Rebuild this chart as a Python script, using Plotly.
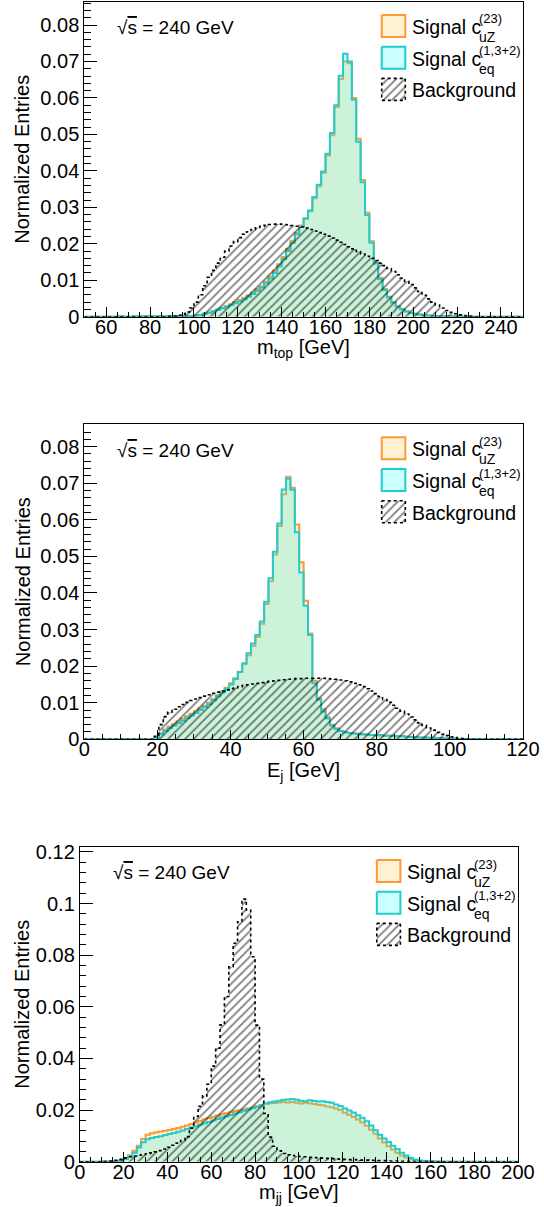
import numpy as np
import plotly.graph_objects as go

W, H = 544, 1207

# ---------------- data (normalized entries per bin, 100 bins each) ----------------
# Panel 1: m_top, 50-250 GeV
top_cuz = [
    0, 0, 0, 0, 0, 0, 0, 0, 0.0001, 0,
    0, 0.0001, 0, 0.0001, 0.0001, 0.0001, 0.0001, 0.0001, 0.0001, 0.0001,
    0.0001, 0.0001, 0.0001, 0.0002, 0.0002, 0.0003, 0.0005, 0.0008, 0.0011, 0.0015,
    0.0020, 0.0024, 0.0029, 0.0034, 0.0040, 0.0046, 0.0052, 0.0059, 0.0066, 0.0075,
    0.0083, 0.0096, 0.0110, 0.0126, 0.0144, 0.0164, 0.0186, 0.0208, 0.0230, 0.0250,
    0.0268, 0.0289, 0.0325, 0.0358, 0.0395, 0.0442, 0.0498, 0.0575, 0.0652, 0.0700,
    0.0695, 0.0600, 0.0488, 0.0375, 0.0285, 0.0207, 0.0149, 0.0107, 0.0076, 0.0055,
    0.0040, 0.0029, 0.0021, 0.0015, 0.0011, 0.0008, 0.0006, 0.0004, 0.0003, 0.0002,
    0.0002, 0.0001, 0.0001, 0.0001, 0.0001, 0.0001, 0, 0.0001, 0, 0,
    0, 0, 0, 0, 0, 0, 0, 0, 0, 0,
]
top_ceq = [
    0, 0, 0, 0, 0, 0, 0, 0, 0.0001, 0,
    0, 0.0001, 0, 0.0001, 0.0001, 0.0001, 0.0001, 0.0001, 0.0001, 0.0001,
    0.0001, 0.0001, 0.0001, 0.0002, 0.0002, 0.0003, 0.0005, 0.0008, 0.0011, 0.0015,
    0.0019, 0.0023, 0.0027, 0.0032, 0.0037, 0.0042, 0.0048, 0.0055, 0.0062, 0.0071,
    0.0080, 0.0092, 0.0105, 0.0120, 0.0138, 0.0158, 0.0180, 0.0203, 0.0226, 0.0247,
    0.0270, 0.0291, 0.0328, 0.0362, 0.0398, 0.0447, 0.0504, 0.0580, 0.0661, 0.0721,
    0.0700, 0.0595, 0.0480, 0.0369, 0.0279, 0.0203, 0.0146, 0.0103, 0.0073, 0.0053,
    0.0038, 0.0027, 0.0020, 0.0014, 0.0010, 0.0008, 0.0006, 0.0004, 0.0003, 0.0002,
    0.0002, 0.0001, 0.0001, 0.0001, 0.0001, 0.0001, 0, 0.0001, 0, 0,
    0, 0, 0, 0, 0, 0, 0, 0, 0, 0,
]
top_bkg = [
    0, 0, 0, 0, 0, 0, 0, 0, 0, 0,
    0, 0, 0, 0, 0, 0, 0, 0, 0, 0.0001,
    0.0002, 0.0004, 0.0007, 0.0013, 0.0024, 0.0040, 0.0060, 0.0085, 0.0108, 0.0127,
    0.0147, 0.0163, 0.0180, 0.0194, 0.0206, 0.0217, 0.0226, 0.0233, 0.0239, 0.0244,
    0.0248, 0.0251, 0.0253, 0.0254, 0.0254, 0.0253, 0.0252, 0.0250, 0.0248, 0.0246,
    0.0243, 0.0239, 0.0235, 0.0231, 0.0226, 0.0221, 0.0216, 0.0210, 0.0204, 0.0198,
    0.0192, 0.0186, 0.0179, 0.0172, 0.0166, 0.0160, 0.0154, 0.0147, 0.0140, 0.0132,
    0.0124, 0.0115, 0.0106, 0.0097, 0.0088, 0.0079, 0.0069, 0.0059, 0.0049, 0.0040,
    0.0032, 0.0024, 0.0017, 0.0012, 0.0008, 0.0005, 0.0003, 0.0002, 0.0001, 0,
    0, 0, 0, 0, 0, 0, 0, 0, 0, 0,
]

# Panel 2: E_j, 0-120 GeV
mid_cuz = [
    0, 0, 0, 0, 0, 0, 0, 0, 0, 0,
    0, 0, 0, 0, 0, 0, 0.0006, 0.0017, 0.0027, 0.0035,
    0.0042, 0.0049, 0.0056, 0.0063, 0.0070, 0.0077, 0.0084, 0.0092, 0.0100, 0.0110,
    0.0121, 0.0131, 0.0141, 0.0153, 0.0167, 0.0185, 0.0205, 0.0230, 0.0255, 0.0280,
    0.0316, 0.0370, 0.0432, 0.0505, 0.0583, 0.0670, 0.0718, 0.0688, 0.0587, 0.0484,
    0.0379, 0.0289, 0.0160, 0.0112, 0.0082, 0.0060, 0.0040, 0.0030, 0.0023, 0.0020,
    0.0017, 0.0016, 0.0015, 0.0014, 0.0013, 0.0012, 0.0012, 0.0011, 0.0010, 0.0010,
    0.0009, 0.0008, 0.0008, 0.0007, 0.0006, 0.0006, 0.0005, 0.0005, 0.0004, 0.0004,
    0.0003, 0.0003, 0.0002, 0.0002, 0.0002, 0.0001, 0.0001, 0.0001, 0.0001, 0.0001,
    0, 0, 0, 0, 0, 0, 0, 0, 0, 0,
]
mid_ceq = [
    0, 0, 0, 0, 0, 0, 0, 0, 0, 0,
    0, 0, 0, 0, 0, 0, 0.0005, 0.0014, 0.0023, 0.0031,
    0.0037, 0.0044, 0.0051, 0.0058, 0.0065, 0.0072, 0.0080, 0.0088, 0.0096, 0.0107,
    0.0118, 0.0128, 0.0138, 0.0150, 0.0165, 0.0184, 0.0208, 0.0235, 0.0262, 0.0285,
    0.0322, 0.0376, 0.0440, 0.0513, 0.0590, 0.0683, 0.0712, 0.0682, 0.0566, 0.0456,
    0.0365, 0.0285, 0.0153, 0.0108, 0.0076, 0.0057, 0.0038, 0.0028, 0.0022, 0.0019,
    0.0017, 0.0016, 0.0015, 0.0014, 0.0013, 0.0012, 0.0012, 0.0011, 0.0010, 0.0010,
    0.0009, 0.0008, 0.0008, 0.0007, 0.0006, 0.0006, 0.0005, 0.0005, 0.0004, 0.0004,
    0.0003, 0.0003, 0.0002, 0.0002, 0.0002, 0.0001, 0.0001, 0.0001, 0.0001, 0.0001,
    0, 0, 0, 0, 0, 0, 0, 0, 0, 0,
]
mid_bkg = [
    0, 0, 0, 0, 0, 0, 0, 0, 0, 0,
    0, 0, 0, 0, 0, 0, 0.0008, 0.0040, 0.0062, 0.0074,
    0.0082, 0.0089, 0.0095, 0.0101, 0.0106, 0.0110, 0.0114, 0.0118, 0.0122, 0.0126,
    0.0129, 0.0132, 0.0135, 0.0138, 0.0141, 0.0144, 0.0147, 0.0149, 0.0151, 0.0153,
    0.0155, 0.0157, 0.0159, 0.0160, 0.0161, 0.0163, 0.0164, 0.0165, 0.0166, 0.0166,
    0.0167, 0.0167, 0.0167, 0.0167, 0.0167, 0.0166, 0.0165, 0.0164, 0.0162, 0.0160,
    0.0157, 0.0153, 0.0149, 0.0144, 0.0138, 0.0132, 0.0125, 0.0117, 0.0109, 0.0101,
    0.0093, 0.0085, 0.0077, 0.0069, 0.0061, 0.0053, 0.0045, 0.0038, 0.0031, 0.0025,
    0.0019, 0.0014, 0.0010, 0.0007, 0.0005, 0.0003, 0.0002, 0.0001, 0, 0,
    0, 0, 0, 0, 0, 0, 0, 0, 0, 0,
]

# Panel 3: m_jj, 0-200 GeV
bot_cuz = [
    0, 0, 0, 0, 0, 0.0001, 0.0001, 0.0001, 0.0002, 0.0005,
    0.0012, 0.0025, 0.0042, 0.0062, 0.0088, 0.0104, 0.0110, 0.0114, 0.0117, 0.0120,
    0.0123, 0.0127, 0.0131, 0.0135, 0.0140, 0.0146, 0.0152, 0.0158, 0.0164, 0.0169,
    0.0174, 0.0179, 0.0184, 0.0188, 0.0192, 0.0196, 0.0199, 0.0202, 0.0206, 0.0210,
    0.0215, 0.0219, 0.0224, 0.0226, 0.0227, 0.0229, 0.0231, 0.0229, 0.0231, 0.0228,
    0.0225, 0.0228, 0.0226, 0.0223, 0.0221, 0.0219, 0.0214, 0.0211, 0.0206, 0.0200,
    0.0190, 0.0182, 0.0173, 0.0163, 0.0152, 0.0139, 0.0124, 0.0108, 0.0090, 0.0074,
    0.0060, 0.0047, 0.0035, 0.0024, 0.0016, 0.0010, 0.0006, 0.0004, 0.0002, 0.0001,
    0.0001, 0.0001, 0, 0, 0, 0, 0, 0, 0, 0,
    0, 0, 0, 0, 0, 0, 0, 0, 0, 0,
]
bot_ceq = [
    0, 0, 0, 0, 0, 0.0001, 0.0001, 0.0001, 0.0002, 0.0005,
    0.0010, 0.0020, 0.0035, 0.0055, 0.0075, 0.0087, 0.0092, 0.0096, 0.0099, 0.0103,
    0.0107, 0.0111, 0.0116, 0.0121, 0.0127, 0.0132, 0.0137, 0.0143, 0.0149, 0.0154,
    0.0160, 0.0165, 0.0171, 0.0176, 0.0181, 0.0187, 0.0192, 0.0197, 0.0202, 0.0207,
    0.0212, 0.0218, 0.0225, 0.0230, 0.0233, 0.0236, 0.0240, 0.0241, 0.0243, 0.0240,
    0.0236, 0.0234, 0.0238, 0.0235, 0.0233, 0.0234, 0.0231, 0.0228, 0.0222, 0.0216,
    0.0206, 0.0198, 0.0191, 0.0180, 0.0170, 0.0157, 0.0140, 0.0122, 0.0104, 0.0090,
    0.0076, 0.0062, 0.0049, 0.0035, 0.0024, 0.0015, 0.0009, 0.0005, 0.0003, 0.0002,
    0.0001, 0.0001, 0.0001, 0, 0, 0, 0, 0, 0, 0,
    0, 0, 0, 0, 0, 0, 0, 0, 0, 0,
]
bot_bkg = [
    0, 0, 0, 0, 0, 0.0001, 0.0002, 0.0003, 0.0005, 0.0009,
    0.0015, 0.0019, 0.0022, 0.0025, 0.0028, 0.0031, 0.0034, 0.0038, 0.0043, 0.0049,
    0.0056, 0.0064, 0.0072, 0.0082, 0.0097, 0.0130, 0.0175, 0.0215, 0.0255, 0.0300,
    0.0370, 0.0440, 0.0530, 0.0640, 0.0755, 0.0846, 0.0929, 0.1017, 0.0975, 0.0794,
    0.0529, 0.0320, 0.0187, 0.0095, 0.0060, 0.0042, 0.0032, 0.0027, 0.0024, 0.0022,
    0.0020, 0.0019, 0.0017, 0.0016, 0.0015, 0.0014, 0.0013, 0.0012, 0.0011, 0.0010,
    0.0009, 0.0008, 0.0008, 0.0007, 0.0006, 0.0006, 0.0005, 0.0005, 0.0004, 0.0004,
    0.0003, 0.0003, 0.0003, 0.0002, 0.0002, 0.0002, 0.0001, 0.0001, 0.0001, 0.0001,
    0.0001, 0, 0, 0, 0, 0, 0, 0, 0, 0,
    0, 0, 0, 0, 0, 0, 0, 0, 0, 0,
]

x_titles = ["m<sub>top</sub> [GeV]", "E<sub>j</sub> [GeV]", "m<sub>jj</sub> [GeV]"]
y_title = "Normalized Entries"
energy_text = "√<span style='text-decoration:overline'>s</span> = 240 GeV"
legend_names = ["Signal c", "Signal c", "Background"]
legend_sup = ["(23)", "(1,3+2)"]
legend_sub = ["uZ", "eq"]

# ---------------- style ----------------
FONT = "Liberation Sans, Arial, Helvetica, sans-serif"
ORANGE_LINE = "#ff9933"
ORANGE_FILL = "rgba(255,206,90,0.28)"
CYAN_LINE = "#22cccc"
CYAN_FILL = "rgba(0,255,255,0.20)"
HATCH = dict(shape="/", fgcolor="black", bgcolor="rgba(0,0,0,0)", size=6, solidity=0.3)

panels = [
    dict(frame=(84.3, 1.7, 522.9, 316.7), xr=(50, 250), yr=(0, 0.0864), xd=20, x0=60,
         xm=5, yd=0.01, ym=0.002, data=(top_cuz, top_ceq, top_bkg)),
    dict(frame=(84.3, 424.0, 522.9, 739.3), xr=(0, 120), yr=(0, 0.0862), xd=20, x0=0,
         xm=5, yd=0.01, ym=0.002, data=(mid_cuz, mid_ceq, mid_bkg)),
    dict(frame=(79.8, 846.7, 518.0, 1161.7), xr=(0, 200), yr=(0, 0.1220), xd=20, x0=0,
         xm=5, yd=0.02, ym=0.004, data=(bot_cuz, bot_ceq, bot_bkg)),
]


def px(x):
    return x / W


def py(y):
    return 1 - y / H


def step(v):
    return list(v) + [v[-1]]


fig = go.Figure()
annotations = []
layout_axes = {}

for k, p in enumerate(panels, start=1):
    L, T, R, B = p["frame"]
    xa = "x" if k == 1 else f"x{k}"
    ya = "y" if k == 1 else f"y{k}"
    cuz, ceq, bkg = p["data"]
    n = len(cuz)
    edges = np.linspace(p["xr"][0], p["xr"][1], n + 1)

    fig.add_trace(go.Scatter(x=edges, y=step(cuz), mode="lines",
                             line=dict(color=ORANGE_LINE, width=2, shape="hv"),
                             fill="tozeroy", fillcolor=ORANGE_FILL,
                             xaxis=xa, yaxis=ya, showlegend=False, hoverinfo="skip"))
    fig.add_trace(go.Scatter(x=edges, y=step(ceq), mode="lines",
                             line=dict(color=CYAN_LINE, width=2, shape="hv"),
                             fill="tozeroy", fillcolor=CYAN_FILL,
                             xaxis=xa, yaxis=ya, showlegend=False, hoverinfo="skip"))
    fig.add_trace(go.Scatter(x=edges, y=step(bkg), mode="lines",
                             line=dict(color="black", width=1.6, shape="hv", dash="dot"),
                             fill="tozeroy", fillcolor="rgba(0,0,0,0)",
                             fillpattern=HATCH,
                             xaxis=xa, yaxis=ya, showlegend=False, hoverinfo="skip"))

    axis_font = dict(family=FONT, size=20, color="black")
    layout_axes["xaxis" if k == 1 else f"xaxis{k}"] = dict(
        domain=[px(L), px(R)], range=list(p["xr"]), anchor=ya, automargin=False,
        showline=True, linecolor="black", linewidth=1, mirror=True,
        showgrid=False, zeroline=False,
        ticks="inside", ticklen=9.5, tickwidth=1, tickcolor="black",
        tick0=p["x0"], dtick=p["xd"], tickfont=axis_font, ticklabelstandoff=-8,
        ticklabeloverflow="allow",
        minor=dict(ticks="inside", ticklen=5, tickwidth=1, tickcolor="black",
                   tick0=p["xr"][0], dtick=p["xm"], showgrid=False),
    )
    layout_axes["yaxis" if k == 1 else f"yaxis{k}"] = dict(
        domain=[py(B), py(T)], range=list(p["yr"]), anchor=xa, automargin=False,
        showline=True, linecolor="black", linewidth=1, mirror=True,
        showgrid=False, zeroline=False,
        ticks="inside", ticklen=13, tickwidth=1, tickcolor="black",
        tick0=0, dtick=p["yd"], tickfont=axis_font, ticklabeloverflow="allow",
        minor=dict(ticks="inside", ticklen=6.5, tickwidth=1, tickcolor="black",
                   tick0=0, dtick=p["ym"], showgrid=False),
    )

    # axis titles
    annotations.append(dict(text=x_titles[k - 1], x=px((L + R) / 2), y=py(B + 32),
                            xref="paper", yref="paper", showarrow=False,
                            xanchor="center", yanchor="middle",
                            font=dict(family=FONT, size=20, color="black")))
    annotations.append(dict(text=y_title, x=px(22.5), y=py((T + B) / 2),
                            xref="paper", yref="paper", showarrow=False, textangle=-90,
                            xanchor="center", yanchor="middle",
                            font=dict(family=FONT, size=20, color="black")))
    # sqrt(s) label
    annotations.append(dict(text=energy_text, x=px(L + 31), y=py(T + 26),
                            xref="paper", yref="paper", showarrow=False,
                            xanchor="left", yanchor="middle",
                            font=dict(family=FONT, size=19, color="black")))

    # legend
    lx0 = R - 141.2
    for r in range(3):
        by0 = T + 13.3 + r * 31.7
        bx = [lx0, lx0 + 23.6, lx0 + 23.6, lx0, lx0]
        byy = [by0, by0, by0 + 22, by0 + 22, by0]
        if r == 0:
            fig.add_trace(go.Scatter(x=bx, y=byy, mode="lines", fill="toself",
                                     fillcolor=ORANGE_FILL,
                                     line=dict(color=ORANGE_LINE, width=2),
                                     xaxis="x4", yaxis="y4", showlegend=False, hoverinfo="skip"))
        elif r == 1:
            fig.add_trace(go.Scatter(x=bx, y=byy, mode="lines", fill="toself",
                                     fillcolor=CYAN_FILL,
                                     line=dict(color=CYAN_LINE, width=2),
                                     xaxis="x4", yaxis="y4", showlegend=False, hoverinfo="skip"))
        else:
            fig.add_trace(go.Scatter(x=bx, y=byy, mode="lines", fill="toself",
                                     fillcolor="rgba(0,0,0,0)", fillpattern=HATCH,
                                     line=dict(color="black", width=1.6, dash="dot"),
                                     xaxis="x4", yaxis="y4", showlegend=False, hoverinfo="skip"))
        cy = by0 + 11
        annotations.append(dict(text=legend_names[r], x=px(lx0 + 28), y=py(cy + 1),
                                xref="paper", yref="paper", showarrow=False,
                                xanchor="left", yanchor="middle",
                                font=dict(family=FONT, size=19.5, color="black")))
        if r < 2:
            annotations.append(dict(text=legend_sup[r], x=px(lx0 + 95), y=py(cy - 7),
                                    xref="paper", yref="paper", showarrow=False,
                                    xanchor="left", yanchor="middle",
                                    font=dict(family=FONT, size=13, color="black")))
            annotations.append(dict(text=legend_sub[r], x=px(lx0 + 95), y=py(cy + 11),
                                    xref="paper", yref="paper", showarrow=False,
                                    xanchor="left", yanchor="middle",
                                    font=dict(family=FONT, size=14, color="black")))

layout_axes["xaxis4"] = dict(domain=[0, 1], range=[0, W], visible=False, anchor="y4",
                             fixedrange=True, automargin=False)
layout_axes["yaxis4"] = dict(domain=[0, 1], range=[H, 0], visible=False, anchor="x4",
                             fixedrange=True, automargin=False)

fig.update_layout(
    width=W, height=H,
    margin=dict(l=0, r=0, t=0, b=0, autoexpand=False),
    paper_bgcolor="white", plot_bgcolor="rgba(0,0,0,0)",
    showlegend=False,
    annotations=annotations,
    **layout_axes,
)

fig.write_html(
    "out.html",
    config={"displayModeBar": False, "staticPlot": True},
    post_script="document.body.style.margin='0';document.body.style.overflow='hidden';",
)
